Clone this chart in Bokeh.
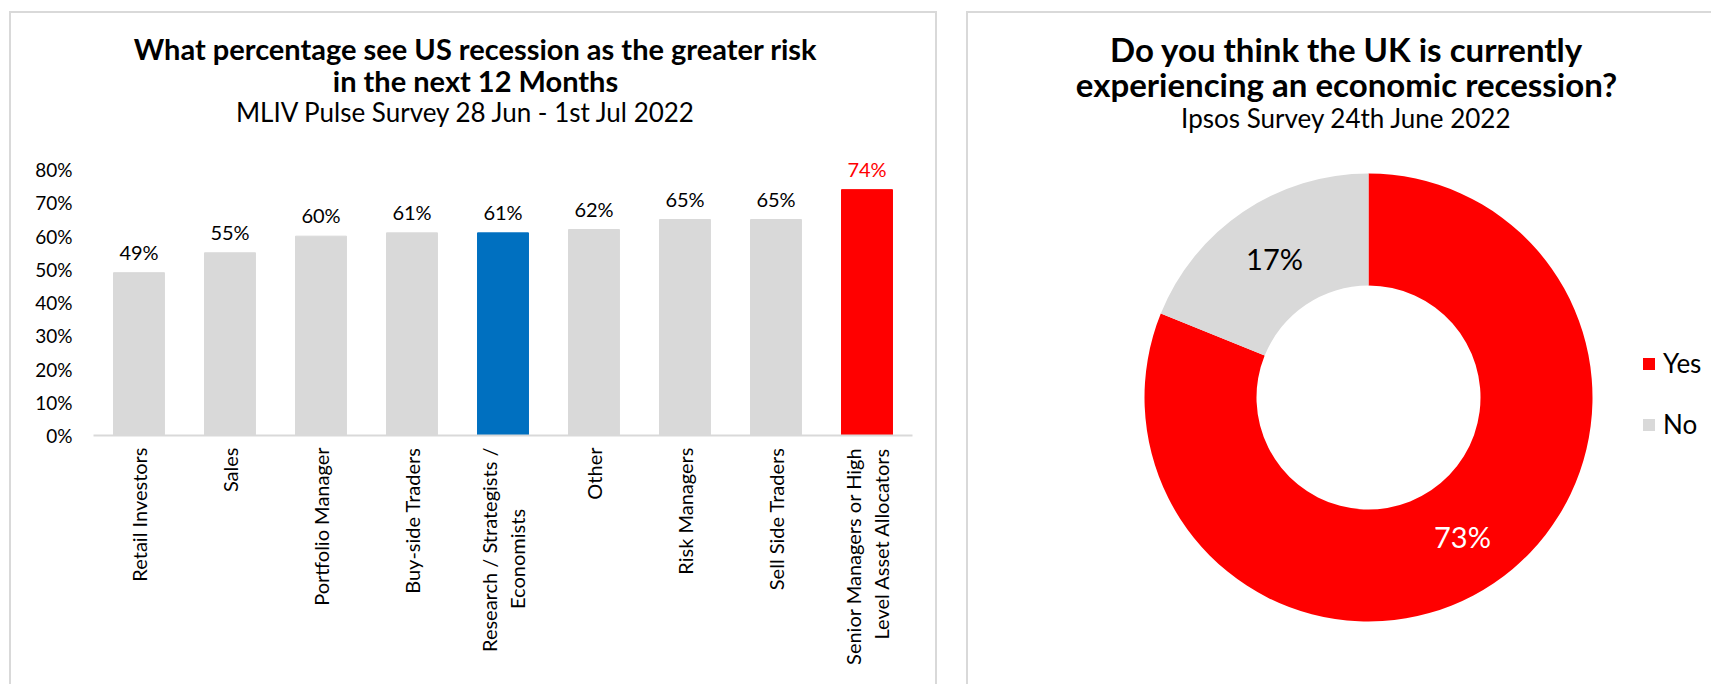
import math
from bokeh.plotting import figure
from bokeh.models import (ColumnDataSource, FactorRange, FixedTicker, PrintfTickFormatter,
                          Label, Legend, LegendItem, Range1d)
from bokeh.layouts import row, column
from bokeh.embed import file_html
from bokeh.resources import INLINE
from bokeh.core.properties import value

# ---------------- data ----------------
NBSP = "\u00a0"
categories = ["Retail Investors", "Sales", "Portfolio Manager", "Buy-side Traders",
              "Research / Strategists /\nEconomists" + NBSP * 12, "Other", "Risk Managers",
              "Sell Side Traders", "Senior Managers or High\nLevel Asset Allocators"]
shares = [49, 55, 60, 61, 61, 62, 65, 65, 74]
bar_colors = ["#D9D9D9", "#D9D9D9", "#D9D9D9", "#D9D9D9", "#0070C0",
              "#D9D9D9", "#D9D9D9", "#D9D9D9", "#FF0000"]
value_label_colors = ["#000000"] * 8 + ["#FF0000"]
y_ticks = [0, 10, 20, 30, 40, 50, 60, 70, 80]

donut_labels = ["Yes", "No"]
donut_values = [73, 17]
donut_colors = ["#FF0000", "#D9D9D9"]
donut_text_colors = ["#FFFFFF", "#000000"]

left_title = ["What percentage see US recession as the greater risk", "in the next 12 Months"]
left_subtitle = "MLIV Pulse Survey 28 Jun - 1st Jul 2022"
right_title = ["Do you think the UK is currently", "experiencing an economic recession?"]
right_subtitle = "Ipsos Survey 24th June 2022"

FONT = "Lato"
H = 684
TOP_H = 136          # height of the title strip above the bar chart
BORDER = "#D9D9D9"


def panel_border(left, top, right):
    g = "linear-gradient(#D9D9D9,#D9D9D9)"
    w = right - left
    return {"background": (f"{g} {left}px {top}px / {w}px 2px no-repeat, "
                           f"{g} {left}px {max(top, 0)}px / 2px 900px no-repeat, "
                           f"{g} {right}px {max(top, 0)}px / 2px 900px no-repeat, #FFFFFF")}


def bare(fig):
    fig.border_fill_color = None
    fig.background_fill_color = None
    fig.outline_line_color = None
    fig.xgrid.grid_line_color = None
    fig.ygrid.grid_line_color = None


def add_title_labels(fig, cx, canvas_h, specs):
    for txt, ytop, bold, size in specs:
        fig.add_layout(Label(x=cx, y=canvas_h - ytop, x_units="screen", y_units="screen",
                             text=txt, text_align="center", text_baseline="middle",
                             text_font=FONT, text_font_style="bold" if bold else "normal",
                             text_font_size=size, text_color="#000000"))


# ---------------- left: title strip ----------------
W1 = 951
t1 = figure(width=W1, height=TOP_H, x_range=Range1d(0, 1), y_range=Range1d(0, 1),
            output_backend="svg", toolbar_location=None, frame_align=False,
            x_axis_location=None, y_axis_location=None,
            min_border=0, min_border_left=0, min_border_right=0,
            min_border_top=0, min_border_bottom=0)
bare(t1)
t1.styles = panel_border(9, 11, 935)
add_title_labels(t1, 475, TOP_H, [(left_title[0], 48, True, "29px"),
                                  (left_title[1], 80, True, "29px")])
add_title_labels(t1, 466, TOP_H, [(left_subtitle, 111, False, "26px")])

# ---------------- left: bar chart ----------------
src = ColumnDataSource(dict(cat=categories, val=shares, color=bar_colors,
                            lc=value_label_colors,
                            label=[f"{v}%" for v in shares]))
p1 = figure(width=W1, height=H - TOP_H, x_range=FactorRange(*categories),
            y_range=Range1d(0, 90),
            output_backend="svg", toolbar_location=None, frame_align=False,
            min_border_left=93, min_border_right=39, min_border_top=0, min_border_bottom=249)
bare(p1)
p1.styles = panel_border(9, -50, 935)

p1.vbar(x="cat", top="val", width=0.56, color="color", source=src)
p1.text(x="cat", y="val", text="label", text_color="lc", text_align="center",
        text_baseline="middle", y_offset=-21, text_font=value(FONT),
        text_font_size="20px", source=src)

xa = p1.xaxis[0]
xa.axis_line_color = BORDER
xa.axis_line_width = 2
xa.major_tick_line_color = None
xa.minor_tick_line_color = None
xa.major_label_orientation = math.pi / 2
xa.major_label_text_font = FONT
xa.major_label_text_font_size = "20px"
xa.major_label_text_color = "#000000"
xa.major_label_standoff = 6

ya = p1.yaxis[0]
ya.axis_line_color = None
ya.major_tick_line_color = None
ya.minor_tick_line_color = None
ya.ticker = FixedTicker(ticks=y_ticks)
ya.formatter = PrintfTickFormatter(format="%d%%")
ya.major_label_text_font = FONT
ya.major_label_text_font_size = "19px"
ya.major_label_text_color = "#000000"
ya.major_label_standoff = 15

# ---------------- right: donut ----------------
W2 = 760
R_PX = 224.0       # outer radius in pixels
CX, CY = 417, 397  # donut centre in canvas pixels (from left / top)
p2 = figure(width=W2, height=H,
            x_range=Range1d(-CX / R_PX, (W2 - CX) / R_PX),
            y_range=Range1d(-(H - CY) / R_PX, CY / R_PX),
            output_backend="svg", toolbar_location=None, frame_align=False,
            x_axis_location=None, y_axis_location=None,
            min_border=0, min_border_left=0, min_border_right=0,
            min_border_top=0, min_border_bottom=0)
bare(p2)
p2.styles = panel_border(15, 11, 900)

total = float(sum(donut_values))
starts, ends, lx, ly = [], [], [], []
acc = 0.0
for v in donut_values:
    a0 = math.pi / 2 - 2 * math.pi * acc / total
    acc += v
    a1 = math.pi / 2 - 2 * math.pi * acc / total
    starts.append(a0)
    ends.append(a1)
    mid = (a0 + a1) / 2
    lx.append(0.75 * math.cos(mid))
    ly.append(0.75 * math.sin(mid))

dsrc = ColumnDataSource(dict(start=starts, end=ends, color=donut_colors, name=donut_labels,
                             lx=lx, ly=ly, tc=donut_text_colors,
                             txt=[f"{v}%" for v in donut_values]))
wr = p2.annular_wedge(x=0, y=0, inner_radius=0.5, outer_radius=1.0,
                      start_angle="start", end_angle="end", direction="clock",
                      fill_color="color", line_color=None, source=dsrc)
p2.text(x="lx", y="ly", text="txt", text_color="tc", text_align="center",
        text_baseline="middle", text_font=value(FONT), text_font_size="29px", source=dsrc)

legend = Legend(items=[LegendItem(label=donut_labels[i], renderers=[wr], index=i)
                       for i in range(len(donut_labels))],
                location=(690, 243), orientation="vertical",
                glyph_width=15, glyph_height=15, label_height=34, spacing=27,
                label_standoff=7, padding=0, margin=0,
                label_text_font=FONT, label_text_font_size="26px",
                label_text_color="#000000",
                border_line_color=None, background_fill_alpha=0)
p2.add_layout(legend)

add_title_labels(p2, 395, H, [(right_title[0], 48, True, "33px"),
                              (right_title[1], 83, True, "33px"),
                              (right_subtitle, 117, False, "26px")])

layout = row(column(t1, p1), p2)
open("out.html", "w").write(file_html(layout, INLINE))
